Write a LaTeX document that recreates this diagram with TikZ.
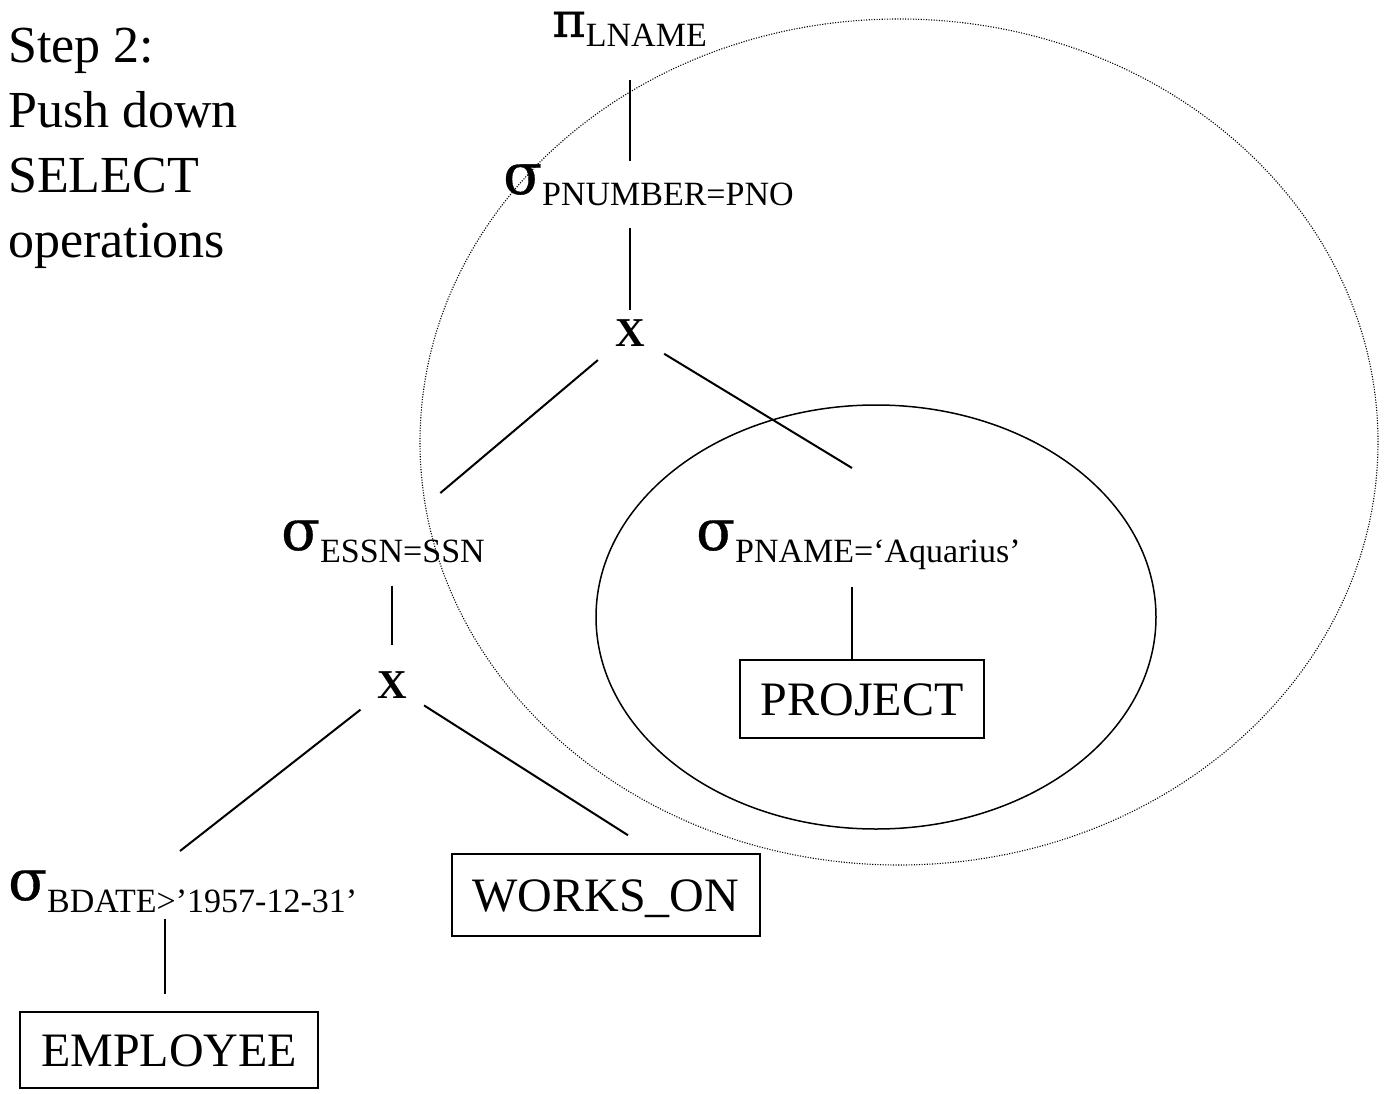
\documentclass[tikz,border=0pt]{standalone}
\usepackage{fontspec}
\setmainfont{Liberation Serif}
\newfontfamily\grk[FakeBold=0.6]{DejaVu Serif}
\usetikzlibrary{calc}
\newcommand{\fsz}[1]{\fontsize{#1}{#1}\selectfont}
% operator symbol with a lowered subscript condition
\newcommand{\opr}[2]{{\grk\fsz{57}#1}\raisebox{-12pt}{\fsz{34}#2}}

\begin{document}
\begin{tikzpicture}[x=1pt,y=-1pt,
  lbl/.style={inner sep=0pt, anchor=base west},
  rel/.style={draw, line width=1.5pt, inner sep=0pt, text height=33pt, text depth=0pt, font=\fsz{48}},
  edge/.style={line width=2pt},
  cross/.style={inner sep=0pt, font=\fsz{41}\bfseries}]
\useasboundingbox (0,0) rectangle (1384,1094);
\fill[white] (0,0) rectangle (1384,1094);

% groupings
\draw[line width=1.1pt, dash pattern=on 1.1pt off 1.5pt, black]
  (899,442) ellipse [x radius=479pt, y radius=423pt];
\draw[line width=1.5pt] (876,617) ellipse [x radius=280pt, y radius=212pt];

% caption
\node[inner sep=0pt, anchor=north west, align=left, font=\fontsize{52}{65}\selectfont]
  (title) at (8,28) {Step 2:\\Push down\\SELECT\\operations};

% query tree
\node[lbl] (pi) at (552,37) {\scalebox{0.95}[0.9]{\grk\fsz{54}π}\raisebox{-10pt}{\fsz{34}LNAME}};
\node[lbl] (sig1) at (503,194) {\opr{σ}{PNUMBER=PNO}};
\node[cross] (x1) at (630,333) {X};
\node[lbl] (sig2) at (281,550) {\opr{σ}{ESSN=SSN}};
\node[lbl] (sig3) at (696,550) {\opr{σ}{PNAME=‘Aquarius’}};
\node[cross] (x2) at (392,685) {X};
\node[lbl] (sig4) at (8,900) {\opr{σ}{BDATE>’1957-12-31’}};
\node[rel, minimum width=244pt, minimum height=78pt] (project) at (862,699) {PROJECT};
\node[rel, minimum width=308pt, minimum height=82pt] (works) at (606,895) {WORKS\_ON};
\node[rel, minimum width=298pt, minimum height=76pt] (employee) at (169,1050) {EMPLOYEE};
\coordinate (xr) at (852,468);
\coordinate (xl) at (180,851);

\draw[edge, shorten <=33pt, shorten >=3pt] (pi.south -| x1) -- (sig1.north -| x1);
\draw[edge, shorten <=21pt, shorten >=9pt] (sig1.south -| x1) -- (x1.north);
\draw[edge, shorten <=42pt, shorten >=75pt] (x1.center) -- (sig2.center);
\draw[edge, shorten <=40pt] (x1.center) -- (xr);
\draw[edge, shorten <=23pt, shorten >=26pt] (sig2.south -| x2) -- (x2.north);
\draw[edge, shorten <=40pt] (x2.center) -- (xl);
\draw[edge, shorten <=38pt] (x2.center) -- ([xshift=22pt,yshift=18pt]works.north);
\draw[edge, shorten <=18pt] (sig3.south -| xr) -- (project.north -| xr);
\draw[edge, shorten <=6pt, shorten >=17pt] ($(sig4.south -| employee)+(-4,0)$) -- ($(employee.north)+(-4,0)$);
\end{tikzpicture}
\end{document}
